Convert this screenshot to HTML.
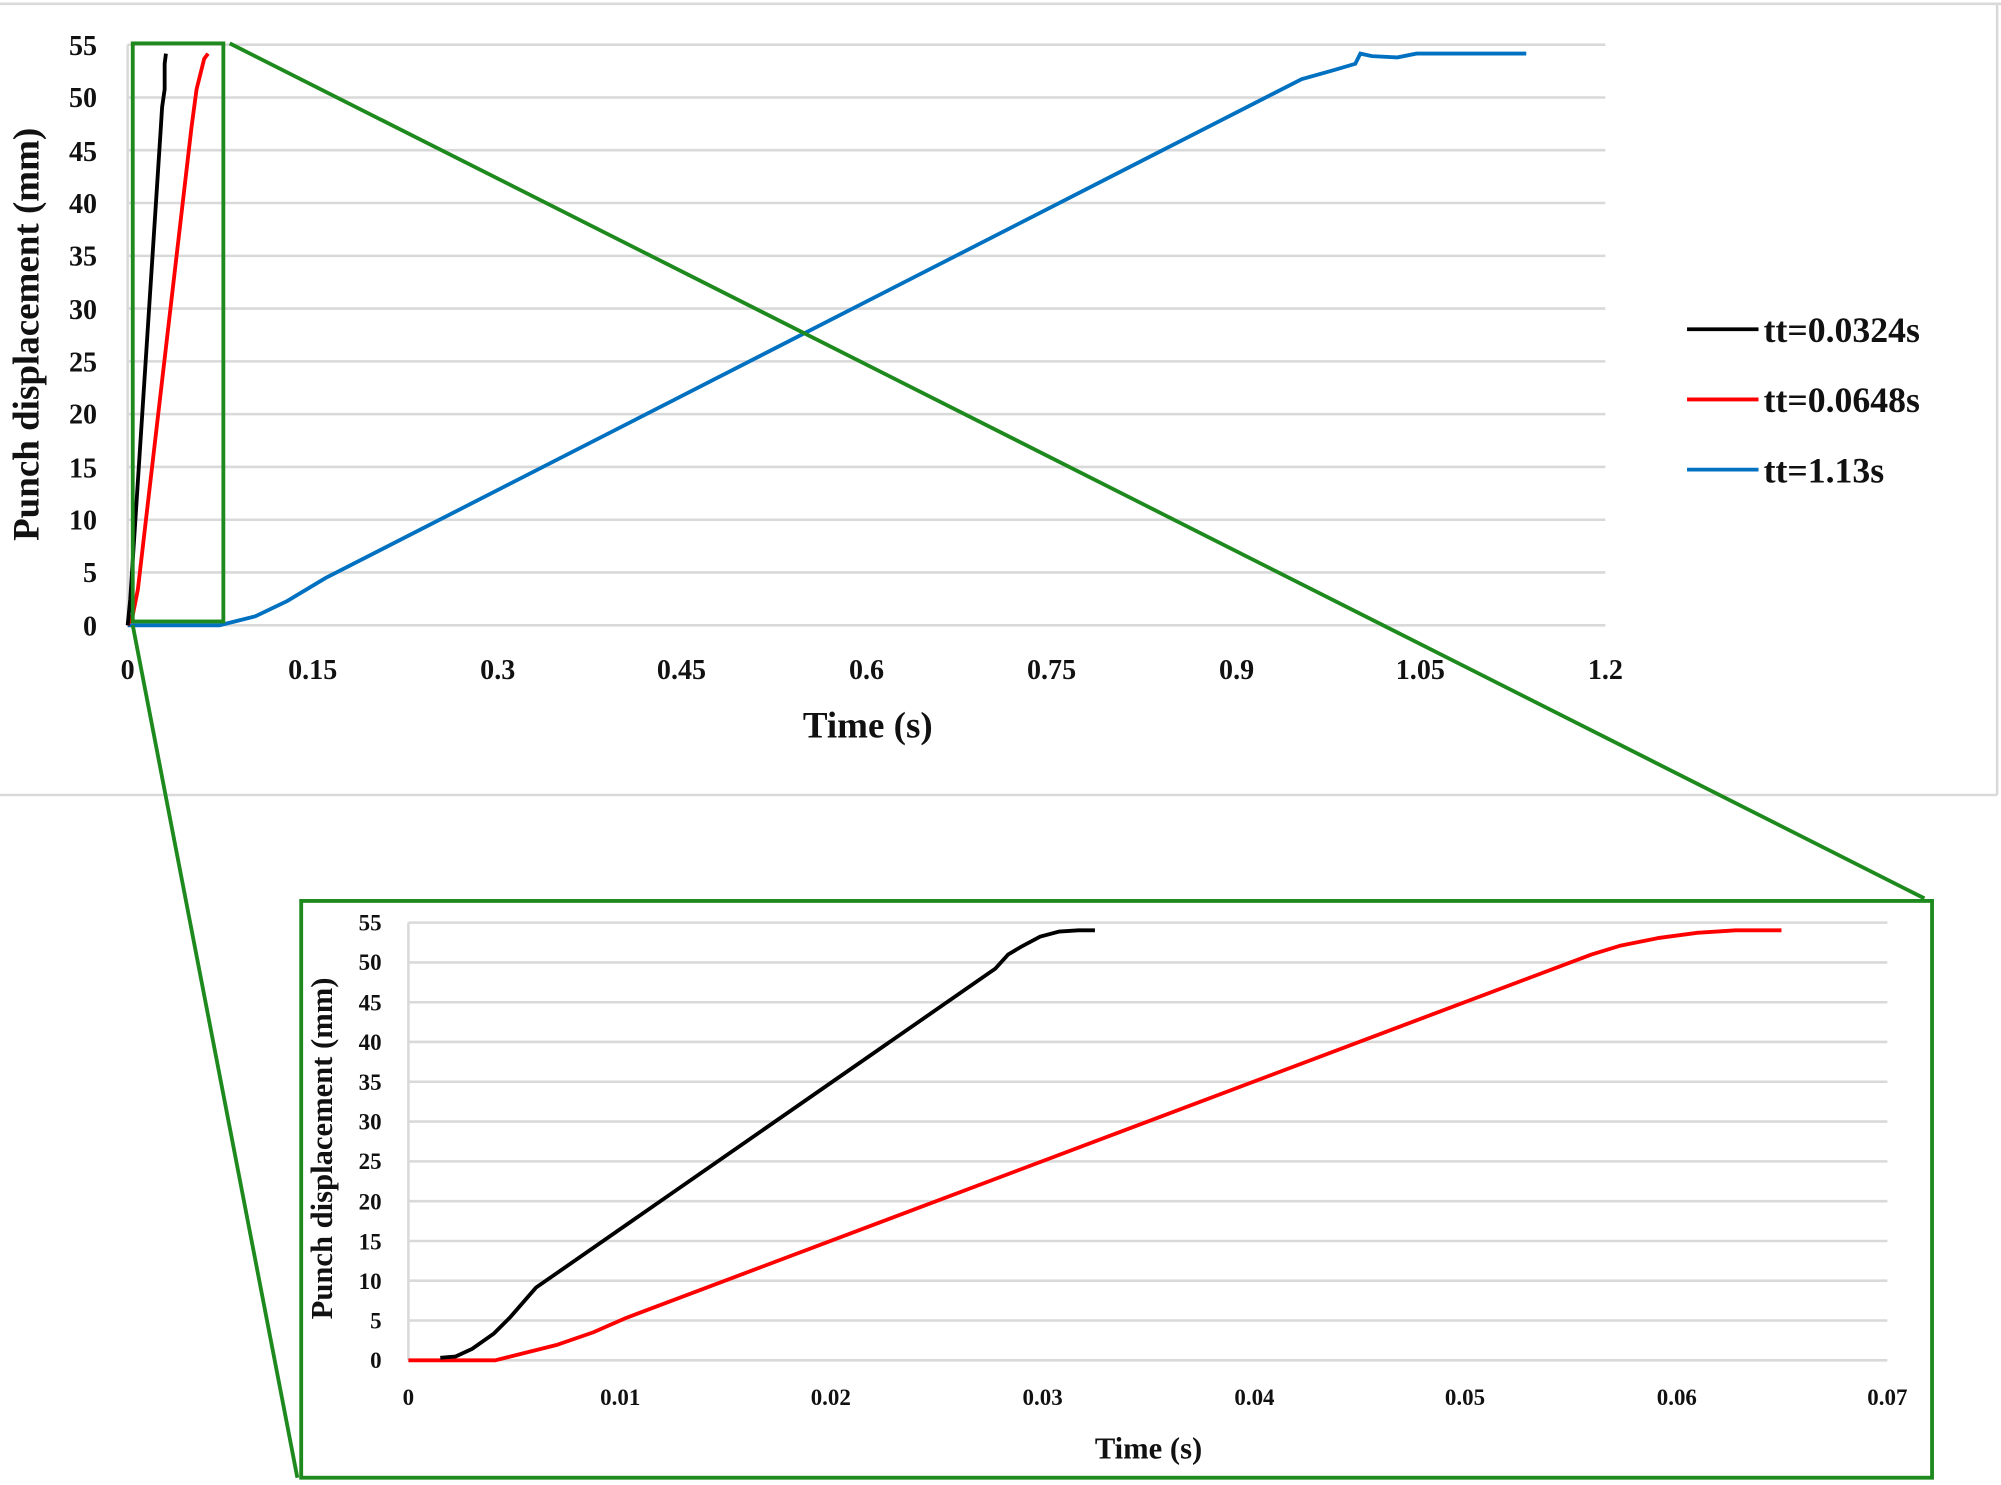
<!DOCTYPE html>
<html><head><meta charset="utf-8"><style>
html,body{margin:0;padding:0;background:#fff;}
svg{display:block;}
text{font-family:"Liberation Serif",serif;font-weight:bold;fill:#111;}
</style></head><body>
<svg width="2001" height="1485" viewBox="0 0 1568 1163.7" xmlns="http://www.w3.org/2000/svg">
<rect width="1568" height="1164" fill="#fff"/>
<line x1="0" y1="3" x2="1568" y2="3" stroke="#d9d9d9" stroke-width="2"/>
<line x1="0" y1="623" x2="1565" y2="623" stroke="#d9d9d9" stroke-width="2"/>
<line x1="1565" y1="3" x2="1565" y2="623" stroke="#d9d9d9" stroke-width="2"/>
<g stroke="#d9d9d9" stroke-width="2">
<line x1="100" x2="1258" y1="490" y2="490"/><line x1="100" x2="1258" y1="448.6" y2="448.6"/><line x1="100" x2="1258" y1="407.3" y2="407.3"/><line x1="100" x2="1258" y1="365.9" y2="365.9"/><line x1="100" x2="1258" y1="324.5" y2="324.5"/><line x1="100" x2="1258" y1="283.2" y2="283.2"/><line x1="100" x2="1258" y1="241.8" y2="241.8"/><line x1="100" x2="1258" y1="200.5" y2="200.5"/><line x1="100" x2="1258" y1="159.1" y2="159.1"/><line x1="100" x2="1258" y1="117.7" y2="117.7"/><line x1="100" x2="1258" y1="76.4" y2="76.4"/><line x1="100" x2="1258" y1="35" y2="35"/>
<line x1="100" x2="100" y1="35" y2="490"/>
</g>
<g font-size="22" text-anchor="end">
<text x="76" y="498">0</text><text x="76" y="456">5</text><text x="76" y="415">10</text><text x="76" y="374">15</text><text x="76" y="332">20</text><text x="76" y="291">25</text><text x="76" y="250">30</text><text x="76" y="208">35</text><text x="76" y="167">40</text><text x="76" y="126">45</text><text x="76" y="84">50</text><text x="76" y="43">55</text>
</g>
<g font-size="22" text-anchor="middle">
<text x="100" y="532">0</text><text x="245" y="532">0.15</text><text x="390" y="532">0.3</text><text x="534" y="532">0.45</text><text x="679" y="532">0.6</text><text x="824" y="532">0.75</text><text x="969" y="532">0.9</text><text x="1113" y="532">1.05</text><text x="1258" y="532">1.2</text>
</g>
<text x="680" y="578" font-size="29" text-anchor="middle">Time (s)</text>
<text transform="translate(30,262) rotate(-90)" font-size="29" text-anchor="middle">Punch displacement (mm)</text>
<polyline fill="none" stroke="#0070c0" stroke-width="3" points="100,490 172,490 200,483 225,471 255,453 1020,62 1045,55 1062,50 1066,42 1075,44 1095,45 1110,42 1196,42"/>
<polyline fill="none" stroke="#ff0000" stroke-width="3" points="100,490 104,482 108,462 150,100 152,85 154,70 156,62 160,46 163,42"/>
<polyline fill="none" stroke="#000" stroke-width="3" points="100,490 102,470 126,100 127,84 129,70 129,50 130,42"/>
<g stroke-width="3">
<line x1="1322" y1="258" x2="1378" y2="258" stroke="#000"/>
<line x1="1322" y1="313" x2="1378" y2="313" stroke="#ff0000"/>
<line x1="1322" y1="368" x2="1378" y2="368" stroke="#0070c0"/>
</g>
<g font-size="28">
<text x="1382" y="268">tt=0.0324s</text><text x="1382" y="323">tt=0.0648s</text><text x="1382" y="378">tt=1.13s</text>
</g>
<g stroke="#1e8a1e" stroke-width="3" fill="none">
<rect x="104" y="34" width="71" height="453"/>
<line x1="180" y1="34" x2="1508" y2="704"/>
<line x1="104" y1="490" x2="233" y2="1158"/>
<rect x="236" y="706" width="1278" height="452"/>
</g>
<g stroke="#d9d9d9" stroke-width="2">
<line x1="320" x2="1479" y1="1066" y2="1066"/><line x1="320" x2="1479" y1="1034.8" y2="1034.8"/><line x1="320" x2="1479" y1="1003.6" y2="1003.6"/><line x1="320" x2="1479" y1="972.5" y2="972.5"/><line x1="320" x2="1479" y1="941.3" y2="941.3"/><line x1="320" x2="1479" y1="910.1" y2="910.1"/><line x1="320" x2="1479" y1="878.9" y2="878.9"/><line x1="320" x2="1479" y1="847.7" y2="847.7"/><line x1="320" x2="1479" y1="816.5" y2="816.5"/><line x1="320" x2="1479" y1="785.4" y2="785.4"/><line x1="320" x2="1479" y1="754.2" y2="754.2"/><line x1="320" x2="1479" y1="723" y2="723"/>
<line x1="320" x2="320" y1="723" y2="1066"/>
</g>
<g font-size="18" text-anchor="end">
<text x="299" y="1072">0</text><text x="299" y="1041">5</text><text x="299" y="1010">10</text><text x="299" y="979">15</text><text x="299" y="948">20</text><text x="299" y="916">25</text><text x="299" y="885">30</text><text x="299" y="854">35</text><text x="299" y="823">40</text><text x="299" y="792">45</text><text x="299" y="760">50</text><text x="299" y="729">55</text>
</g>
<g font-size="18" text-anchor="middle">
<text x="320" y="1101">0</text><text x="486" y="1101">0.01</text><text x="651" y="1101">0.02</text><text x="817" y="1101">0.03</text><text x="983" y="1101">0.04</text><text x="1148" y="1101">0.05</text><text x="1314" y="1101">0.06</text><text x="1479" y="1101">0.07</text>
</g>
<text x="900" y="1143" font-size="24" text-anchor="middle">Time (s)</text>
<text transform="translate(260,900) rotate(-90)" font-size="24" text-anchor="middle">Punch displacement (mm)</text>
<polyline fill="none" stroke="#ff0000" stroke-width="3" points="320,1066 388,1066 400,1063 436,1054 465,1044 490,1033 1247,748 1270,741 1300,735 1330,731 1360,729 1396,729"/>
<polyline fill="none" stroke="#000" stroke-width="3" points="345,1064 357,1063 370,1057 387,1045 400,1032 420,1009 780,759 790,748 800,742 815,734 830,730 845,729 858,729"/>
</svg>
</body></html>
